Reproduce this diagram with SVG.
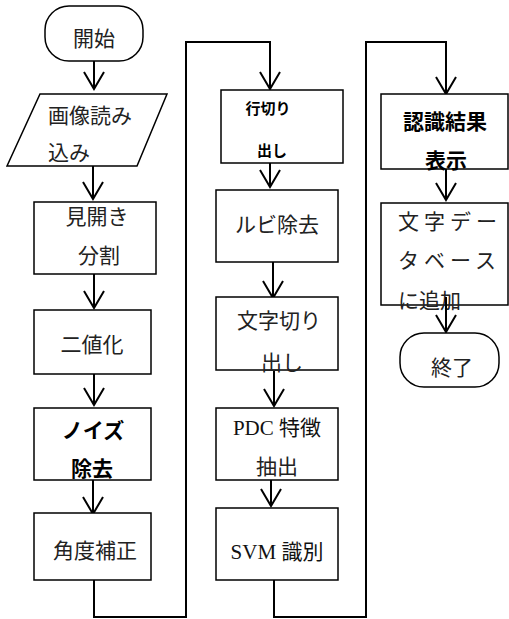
<svg xmlns="http://www.w3.org/2000/svg" width="509" height="619" viewBox="0 0 509 619">
<defs>
<marker id="arr" markerUnits="userSpaceOnUse" viewBox="-19 -12 21 24" refX="0" refY="0" markerWidth="21" markerHeight="24" orient="auto" overflow="visible">
<path d="M-17,-10 L0,0 L-17,10" fill="none" stroke="#000" stroke-width="2"/>
</marker>
<style>
.box{fill:#fff;stroke:#000;stroke-width:1.5}
.t{font-family:"Noto Sans CJK JP","Noto Sans",sans-serif;font-size:21px;fill:#222;text-anchor:middle}
.b{font-weight:700;fill:#000}
.s{font-family:"Liberation Serif","Noto Sans CJK JP",serif;font-size:21px;fill:#111;text-anchor:middle}
.c{fill:none;stroke:#000;stroke-width:2}
</style>
</defs>
<rect width="509" height="619" fill="#fff"/>
<g id="connectors" class="c">
<line x1="94" y1="60" x2="94" y2="89" marker-end="url(#arr)"/>
<line x1="93" y1="162" x2="93" y2="199" marker-end="url(#arr)"/>
<line x1="94" y1="274" x2="94" y2="308" marker-end="url(#arr)"/>
<line x1="94" y1="374" x2="94" y2="405" marker-end="url(#arr)"/>
<line x1="93" y1="480" x2="93" y2="514" marker-end="url(#arr)"/>
<polyline points="94,580 94,617 186,617 186,42 270,42 270,89" marker-end="url(#arr)"/>
<line x1="270" y1="163" x2="270" y2="187" marker-end="url(#arr)"/>
<line x1="273" y1="262" x2="273" y2="298" marker-end="url(#arr)"/>
<line x1="274" y1="370" x2="274" y2="406" marker-end="url(#arr)"/>
<line x1="271" y1="480" x2="271" y2="506" marker-end="url(#arr)"/>
<polyline points="274,580 274,617 366,617 366,42 446,42 446,94" marker-end="url(#arr)"/>
<line x1="446" y1="169" x2="446" y2="200" marker-end="url(#arr)"/>
</g>
<g id="start"><rect class="box" x="45" y="6" width="98" height="55" rx="24"/><text class="t" x="94" y="46">開始</text></g>
<g id="read"><polygon class="box" points="40,94 167,94 137,166 7,166"/><text class="t" x="48" y="123" style="text-anchor:start">画像読み</text><text class="t" x="48" y="160" style="text-anchor:start">込み</text></g>
<g id="split"><rect class="box" x="34" y="202" width="122" height="72"/><text class="t" x="97" y="224">見開き</text><text class="t" x="99" y="263">分割</text></g>
<g id="binarize"><rect class="box" x="34" y="310" width="117" height="64"/><text class="t" x="92" y="352">二値化</text></g>
<g id="denoise"><rect class="box" x="34" y="408" width="117" height="72"/><text class="t b" x="93" y="438">ノイズ</text><text class="t b" x="92" y="476">除去</text></g>
<g id="deskew"><rect class="box" x="34" y="513" width="117" height="67"/><text class="t" x="95" y="558">角度補正</text></g>
<g id="line-seg"><rect class="box" x="221" y="90" width="122" height="73"/><text class="t b" x="268" y="114" style="font-size:15px">行切り</text><text class="t b" x="272" y="156" style="font-size:15px">出し</text></g>
<g id="ruby"><rect class="box" x="216" y="190" width="122" height="72"/><text class="t" x="277" y="232">ルビ除去</text></g>
<g id="char-seg"><rect class="box" x="216" y="297" width="122" height="73"/><text class="t" x="279" y="328">文字切り</text><text class="t" x="282" y="370">出し</text></g>
<g id="pdc"><rect class="box" x="216" y="408" width="122" height="72"/><text class="s" x="277" y="435">PDC 特徴</text><text class="t" x="277" y="474">抽出</text></g>
<g id="svm"><rect class="box" x="216" y="508" width="122" height="72"/><text class="s" x="277" y="559">SVM 識別</text></g>
<g id="result"><rect class="box" x="381" y="94" width="127" height="75"/><text class="t b" x="445" y="129">認識結果</text><text class="t b" x="446" y="168">表示</text></g>
<g id="db"><rect class="box" x="381" y="203" width="127" height="102"/><text class="t" x="398" y="229" style="text-anchor:start;letter-spacing:5px">文字デー</text><text class="t" x="398" y="268" style="text-anchor:start;letter-spacing:5px">タベース</text><text class="t" x="398" y="308" style="text-anchor:start">に追加</text></g>
<line class="c" x1="446" y1="297" x2="446" y2="332" marker-end="url(#arr)"/>
<g id="end"><rect class="box" x="400" y="333" width="99" height="54" rx="24"/><text class="t" x="452" y="375">終了</text></g>
</svg>
